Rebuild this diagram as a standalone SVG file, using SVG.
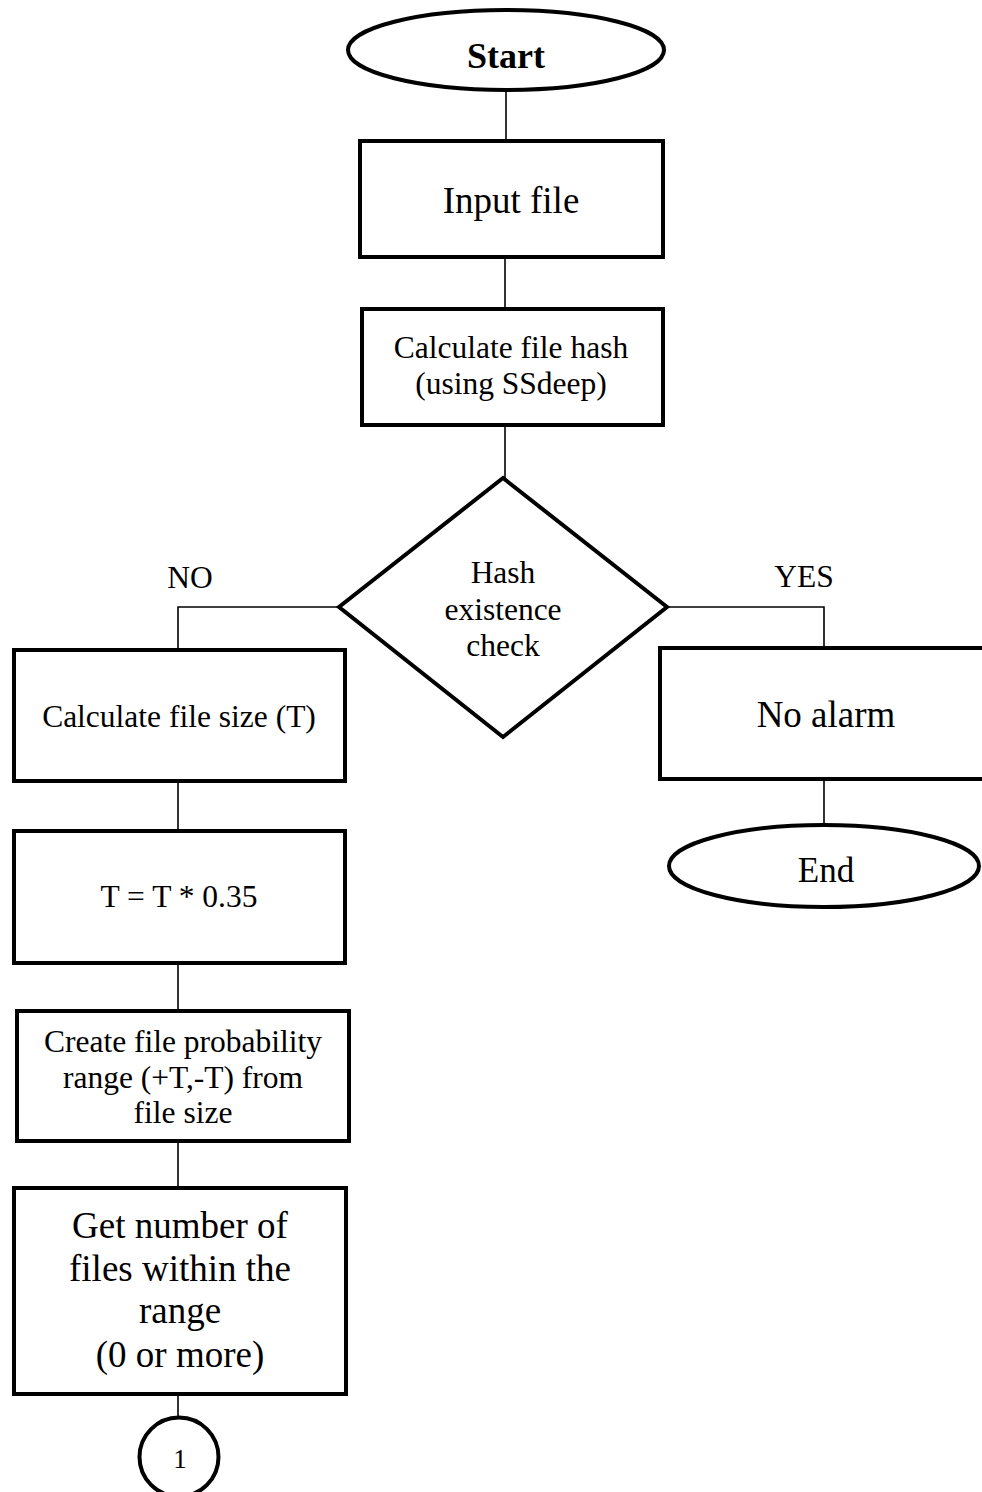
<svg xmlns="http://www.w3.org/2000/svg" width="982" height="1492" viewBox="0 0 982 1492">
<style>
.s{fill:#fff;stroke:#000;stroke-width:4;stroke-linejoin:miter}
.c{fill:none;stroke:#000;stroke-width:1.6}
text{font-family:"Liberation Serif","Times New Roman",serif;fill:#000;text-anchor:middle}
.m{font-size:31.5px}
.l{font-size:37px}
</style>
<rect width="982" height="1492" fill="#fff"/>
<g id="connectors">
<path class="c" d="M506 90V140"/>
<path class="c" d="M505 257V308"/>
<path class="c" d="M505 425V478"/>
<path class="c" d="M338 607H178V650"/>
<path class="c" d="M668 607H824V648"/>
<path class="c" d="M824 779V825"/>
<path class="c" d="M178 782V830"/>
<path class="c" d="M178 963V1010"/>
<path class="c" d="M178 1142V1187"/>
<path class="c" d="M178 1395V1418"/>
</g>
<g id="start">
<ellipse class="s" cx="506" cy="50" rx="158" ry="40"/>
<text x="506" y="68" style="font-size:36px;font-weight:bold">Start</text>
</g>
<g id="input">
<rect class="s" x="360" y="141" width="303" height="116"/>
<text class="l" x="511" y="213">Input file</text>
</g>
<g id="hash">
<rect class="s" x="362" y="309" width="301" height="116"/>
<text class="m" x="511" y="358">Calculate file hash</text>
<text class="m" x="511" y="394">(using SSdeep)</text>
</g>
<g id="check">
<polygon class="s" points="503,478 667,607 503,737 339,607"/>
<text class="m" x="503" y="583">Hash</text>
<text class="m" x="503" y="620">existence</text>
<text class="m" x="503" y="656">check</text>
</g>
<g id="labels">
<text class="m" x="190" y="588">NO</text>
<text class="m" x="804" y="587">YES</text>
</g>
<g id="size">
<rect class="s" x="14" y="650" width="331" height="131"/>
<text class="m" x="179" y="727">Calculate file size (T)</text>
</g>
<g id="noalarm">
<rect class="s" x="660" y="648" width="330" height="131"/>
<text class="l" x="826" y="727">No alarm</text>
</g>
<g id="end">
<ellipse class="s" cx="824" cy="866" rx="155" ry="41"/>
<text x="826" y="882" style="font-size:35px">End</text>
</g>
<g id="tcalc">
<rect class="s" x="14" y="831" width="331" height="132"/>
<text class="m" x="179" y="907">T = T * 0.35</text>
</g>
<g id="range">
<rect class="s" x="17" y="1011" width="332" height="130"/>
<text class="m" x="183" y="1052">Create file probability</text>
<text class="m" x="183" y="1088">range (+T,-T) from</text>
<text class="m" x="183" y="1123">file size</text>
</g>
<g id="count">
<rect class="s" x="14" y="1188" width="332" height="206"/>
<text class="l" x="180" y="1238">Get number of</text>
<text class="l" x="180" y="1281">files within the</text>
<text class="l" x="180" y="1323">range</text>
<text class="l" x="180" y="1367">(0 or more)</text>
</g>
<g id="connector1">
<circle class="s" cx="179" cy="1457" r="39.5"/>
<text x="180" y="1468" style="font-size:27px">1</text>
</g>
</svg>
